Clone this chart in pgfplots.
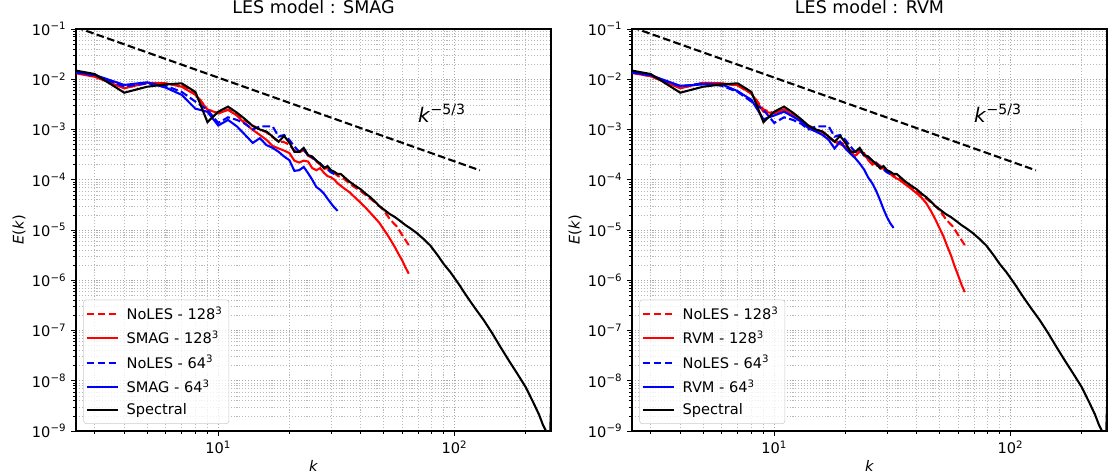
\documentclass[border=0pt]{standalone}
\usepackage{fontspec}
\setmainfont{DejaVu Sans}
\usepackage{pgfplots}
\pgfplotsset{compat=1.18}
\usepackage{pgfplotstable}

\pgfplotstableread{
k E
2 1.8e-2
3 1.27e-2
4 5.4e-3
5 7.1e-3
6 7.9e-3
7 8.3e-3
8 5.6e-3
9 1.4e-3
10 2.26e-3
11 2.85e-3
12 2.16e-3
13 1.6e-3
14 1.17e-3
15 1.0e-3
16 9.1e-4
17 7.2e-4
18 5.7e-4
19 7.4e-4
20 5.5e-4
21 3.6e-4
22 3.6e-4
23 4.3e-4
24 3.1e-4
25 2.9e-4
26 2.4e-4
27 2.1e-4
28 1.7e-4
29 1.87e-4
30 1.55e-4
31 1.44e-4
32 1.3e-4
33 1.3e-4
34 1.15e-4
35 1.02e-4
36 9.1e-5
38 7.6e-5
40 6.5e-5
42 5.3e-5
44 4.5e-5
46 3.7e-5
48 3.0e-5
50 2.6e-5
53 2.1e-5
56 1.8e-5
59 1.5e-5
62 1.25e-5
65 1.08e-5
69 8.8e-6
74 6.6e-6
79 4.9e-6
85 3.1e-6
90 2.1e-6
96 1.45e-6
104 8.5e-7
113 4.7e-7
122 2.8e-7
133 1.6e-7
144 9.0e-8
156 4.8e-8
170 2.5e-8
184 1.4e-8
200 7.5e-9
216 3.6e-9
228 2.1e-9
237 1.3e-9
244 1.0e-9
250 8.5e-10
254 9.0e-10
256 3.0e-9
}\spectral

\pgfplotstableread{
k E
2 1.65e-2
3 1.15e-2
4 6.8e-3
5 8.3e-3
6 8.2e-3
7 7.5e-3
8 5.2e-3
9 2.5e-3
10 2.1e-3
11 2.5e-3
12 2.0e-3
13 1.5e-3
14 1.2e-3
15 1.0e-3
16 8.8e-4
17 7.0e-4
18 5.8e-4
19 5.6e-4
20 5.0e-4
21 3.8e-4
22 3.5e-4
23 3.9e-4
24 3.0e-4
25 2.7e-4
26 2.3e-4
27 2.0e-4
28 1.65e-4
29 1.7e-4
30 1.45e-4
31 1.35e-4
32 1.2e-4
34 1.05e-4
36 8.3e-5
38 7.0e-5
40 6.0e-5
44 4.2e-5
47 3.3e-5
50 2.5e-5
53.5 1.6e-5
57 1.17e-5
60 8.0e-6
64 5.0e-6
}\noleshi

\pgfplotstableread{
k E
2 1.6e-2
3 1.12e-2
4 6.6e-3
5 8.5e-3
6 8.3e-3
7 7.1e-3
8 4.9e-3
9 2.5e-3
10 2.1e-3
11 2.45e-3
12 1.9e-3
13 1.3e-3
14 9.8e-4
15 7.8e-4
16 6.2e-4
17 4.7e-4
18 4.2e-4
19 3.8e-4
20 3.4e-4
21 2.4e-4
22 2.2e-4
23 2.4e-4
24 2.3e-4
25 1.7e-4
26 1.55e-4
27 1.7e-4
28 1.38e-4
29 1.18e-4
30 1.12e-4
31 1.0e-4
32 8.5e-5
34 6.8e-5
36 5.6e-5
38 4.4e-5
40 3.5e-5
42 2.8e-5
44 2.2e-5
46 1.75e-5
48 1.4e-5
50 1.05e-5
52 8.0e-6
54 6.0e-6
56 4.5e-6
58 3.3e-6
60 2.5e-6
62 1.8e-6
64 1.35e-6
}\smaghi

\pgfplotstableread{
k E
2 1.6e-2
3 1.2e-2
4 7.2e-3
5 8.3e-3
6 7.4e-3
7 5.6e-3
8 3.6e-3
9 2.45e-3
10 1.35e-3
11 1.75e-3
12 1.55e-3
13 1.3e-3
14 1.0e-3
15 1.15e-3
16 1.15e-3
17 1.15e-3
18 7.2e-4
19 7.8e-4
20 6.2e-4
21 4.6e-4
22 3.6e-4
23 4.0e-4
24 3.0e-4
25 2.8e-4
26 2.4e-4
27 2.1e-4
28 1.8e-4
29 1.6e-4
30 1.4e-4
31 1.3e-4
32 1.25e-4
}\noleslo

\pgfplotstableread{
k E
2 1.6e-2
3 1.22e-2
4 7.7e-3
5 8.7e-3
6 6.8e-3
7 4.9e-3
8 2.6e-3
9 2.25e-3
10 1.2e-3
11 1.55e-3
12 1.15e-3
13 7.8e-4
14 5.4e-4
15 6.7e-4
16 4.9e-4
17 4.3e-4
18 3.6e-4
19 2.9e-4
20 2.45e-4
21 1.5e-4
22 1.55e-4
23 1.8e-4
24 1.35e-4
25 1.0e-4
26 7.2e-5
27 6.3e-5
28 5.3e-5
29 4.2e-5
30 3.4e-5
31 2.8e-5
32 2.4e-5
}\smaglo

\pgfplotstableread{
k E
2 1.6e-2
3 1.15e-2
4 6.6e-3
5 8.5e-3
6 8.3e-3
7 7.6e-3
8 5.2e-3
9 2.26e-3
10 2.1e-3
11 2.5e-3
12 1.9e-3
13 1.55e-3
14 1.17e-3
15 9.8e-4
16 9.1e-4
17 7.2e-4
18 5.7e-4
19 5.1e-4
20 4.6e-4
21 3.6e-4
22 3.0e-4
23 3.6e-4
24 3.4e-4
25 2.45e-4
26 2.0e-4
27 2.2e-4
28 1.9e-4
29 1.7e-4
30 1.45e-4
31 1.3e-4
32 1.15e-4
34 9.8e-5
36 8.0e-5
38 6.6e-5
40 5.4e-5
42 4.4e-5
44 3.4e-5
46 2.4e-5
48 1.65e-5
50 1.1e-5
52 7.5e-6
54 4.7e-6
56 3.1e-6
58 1.9e-6
60 1.25e-6
62 8.2e-7
64 5.8e-7
}\rvmhi

\pgfplotstableread{
k E
2 1.6e-2
3 1.2e-2
4 7.4e-3
5 7.9e-3
6 7.9e-3
7 5.8e-3
8 3.9e-3
9 1.6e-3
10 1.9e-3
11 2.26e-3
12 1.8e-3
13 1.43e-3
14 1.05e-3
15 9.1e-4
16 7.8e-4
17 6.2e-4
18 4.2e-4
19 5.7e-4
20 4.2e-4
21 3.3e-4
22 2.7e-4
23 2.1e-4
24 1.6e-4
25 1.1e-4
26 8.5e-5
27 6.0e-5
28 4.0e-5
29 2.6e-5
30 1.8e-5
31 1.35e-5
32 1.1e-5
}\rvmlo

\pgfplotstableread{
k E
2.5 0.1086
128 1.54e-4
}\slope

\pgfplotsset{
    scale only axis,
    width=342pt, height=289.44pt,
    xmin=2.5, xmax=256, ymin=1e-9, ymax=1e-1,
    xtick={10,100},
    xticklabels={10\textsuperscript{1},10\textsuperscript{2}},
    minor xtick={3,4,5,6,7,8,9,20,30,40,50,60,70,80,90,200},
    ytick={1e-9,1e-8,1e-7,1e-6,1e-5,1e-4,1e-3,1e-2,1e-1},
    yticklabels={10\textsuperscript{−9},10\textsuperscript{−8},10\textsuperscript{−7},10\textsuperscript{−6},10\textsuperscript{−5},10\textsuperscript{−4},10\textsuperscript{−3},10\textsuperscript{−2},10\textsuperscript{−1}},
    minor ytick={2e-9,3e-9,4e-9,5e-9,6e-9,7e-9,8e-9,9e-9,
                 2e-8,3e-8,4e-8,5e-8,6e-8,7e-8,8e-8,9e-8,
                 2e-7,3e-7,4e-7,5e-7,6e-7,7e-7,8e-7,9e-7,
                 2e-6,3e-6,4e-6,5e-6,6e-6,7e-6,8e-6,9e-6,
                 2e-5,3e-5,4e-5,5e-5,6e-5,7e-5,8e-5,9e-5,
                 2e-4,3e-4,4e-4,5e-4,6e-4,7e-4,8e-4,9e-4,
                 2e-3,3e-3,4e-3,5e-3,6e-3,7e-3,8e-3,9e-3,
                 2e-2,3e-2,4e-2,5e-2,6e-2,7e-2,8e-2,9e-2},
    grid=both,
    major grid style={black!35, line width=0.6pt, dash pattern=on 0.8pt off 1.3pt},
    minor grid style={black!28, line width=0.5pt, dash pattern=on 0.8pt off 1.3pt},
    tick align=outside, xtick pos=bottom, ytick pos=left,
    major tick length=3.5pt, minor tick length=2pt,
    major tick style={black, line width=0.7pt},
    minor tick style={black, line width=0.5pt},
    axis line style={line width=0.8pt},
    ticklabel style={font=\fontsize{10.5}{12.5}\selectfont},
    every axis x label/.style={at={(axis description cs:0.5,-0.086)}, anchor=center},
    every axis y label/.style={at={(axis description cs:-0.12,0.5)}, rotate=90, anchor=center},
    label style={font=\fontsize{10.5}{12.5}\selectfont},
    xlabel={\textit{k}}, ylabel={\textit{E}(\textit{k})},
    title style={font=\fontsize{12.6}{15}\selectfont, yshift=1.6pt},
    legend cell align=left,
    legend style={at={(0.0154,0.0175)}, anchor=south west, draw=black!20,
      rounded corners=2pt, fill=white, fill opacity=0.8, text opacity=1,
      font=\fontsize{10.5}{12.5}\selectfont, row sep=0pt, inner xsep=1.5pt, inner ysep=1.5pt,
      nodes={inner xsep=3pt, inner ysep=3.3pt}},
    legend image code/.code={\draw[#1] (0pt,0pt) -- (22.6pt,0pt); \path (25pt,0pt);},
}

\begin{document}
\begin{tikzpicture}
\useasboundingbox (0,0) rectangle (797.76pt,341.28pt);

\begin{loglogaxis}[anchor=south west, at={(54.72pt,30.96pt)}, title={LES model : SMAG}]
\addplot[black, line width=1.5pt, dash pattern=on 5.5pt off 2.4pt, forget plot] table[x=k,y=E] {\slope};
\addplot[red, line width=1.5pt, dash pattern=on 5.5pt off 2.4pt] table[x=k,y=E] {\noleshi};
\addlegendentry{NoLES - 128\textsuperscript{3}}
\addplot[red, line width=1.5pt] table[x=k,y=E] {\smaghi};
\addlegendentry{SMAG - 128\textsuperscript{3}}
\addplot[blue, line width=1.5pt, dash pattern=on 5.5pt off 2.4pt] table[x=k,y=E] {\noleslo};
\addlegendentry{NoLES - 64\textsuperscript{3}}
\addplot[blue, line width=1.5pt] table[x=k,y=E] {\smaglo};
\addlegendentry{SMAG - 64\textsuperscript{3}}
\addplot[black, line width=1.5pt] table[x=k,y=E] {\spectral};
\addlegendentry{Spectral}
\node[anchor=base west, inner sep=0pt, font=\fontsize{14.5}{17}\selectfont] at (axis cs:70,1.4e-3) {\textit{k}\textsuperscript{−5/3}};
\end{loglogaxis}

\begin{loglogaxis}[anchor=south west, at={(455.04pt,30.96pt)}, title={LES model : RVM}]
\addplot[black, line width=1.5pt, dash pattern=on 5.5pt off 2.4pt, forget plot] table[x=k,y=E] {\slope};
\addplot[red, line width=1.5pt, dash pattern=on 5.5pt off 2.4pt] table[x=k,y=E] {\noleshi};
\addlegendentry{NoLES - 128\textsuperscript{3}}
\addplot[red, line width=1.5pt] table[x=k,y=E] {\rvmhi};
\addlegendentry{RVM - 128\textsuperscript{3}}
\addplot[blue, line width=1.5pt, dash pattern=on 5.5pt off 2.4pt] table[x=k,y=E] {\noleslo};
\addlegendentry{NoLES - 64\textsuperscript{3}}
\addplot[blue, line width=1.5pt] table[x=k,y=E] {\rvmlo};
\addlegendentry{RVM - 64\textsuperscript{3}}
\addplot[black, line width=1.5pt] table[x=k,y=E] {\spectral};
\addlegendentry{Spectral}
\node[anchor=base west, inner sep=0pt, font=\fontsize{14.5}{17}\selectfont] at (axis cs:70,1.4e-3) {\textit{k}\textsuperscript{−5/3}};
\end{loglogaxis}
\end{tikzpicture}
\end{document}
